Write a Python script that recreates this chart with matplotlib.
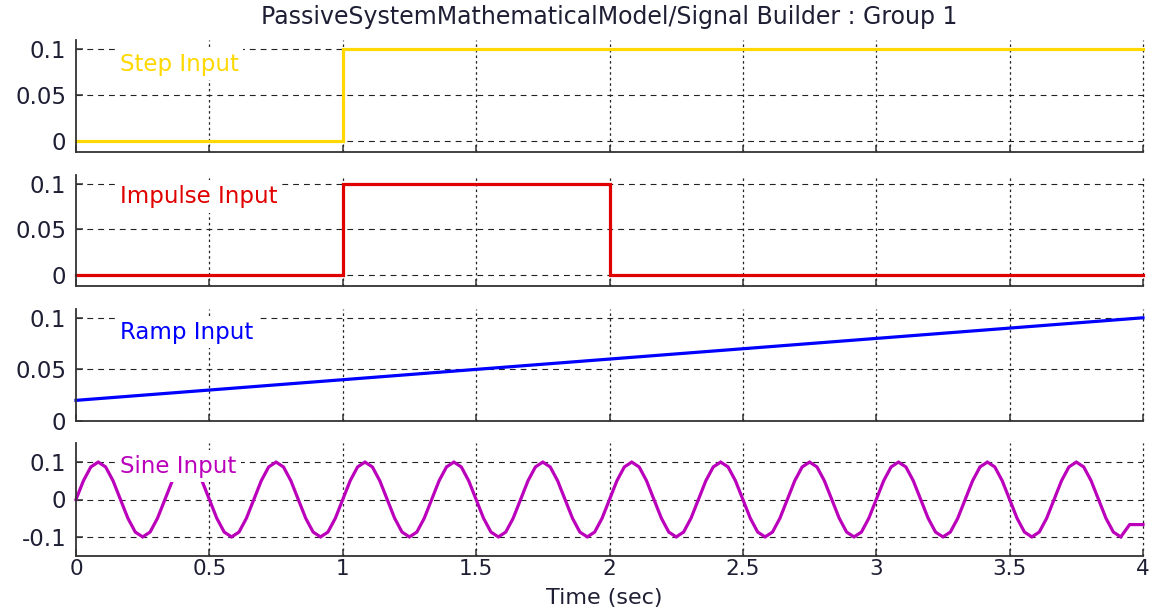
import numpy as np
import matplotlib
matplotlib.use("Agg")
import matplotlib.pyplot as plt

plt.rcParams["font.family"] = ["DejaVu Sans"]
plt.rcParams["lines.scale_dashes"] = False

# ---- signal data ----
x_ticks = [0, 0.5, 1, 1.5, 2, 2.5, 3, 3.5, 4]
x_tick_labels = ["0", "0.5", "1", "1.5", "2", "2.5", "3", "3.5", "4"]

step_t = [0, 1, 1, 4]
step_v = [0, 0, 0.1, 0.1]

impulse_t = [0, 1, 1, 2, 2, 4]
impulse_v = [0, 0, 0.1, 0.1, 0, 0]

ramp_t = [0, 4]
ramp_v = [0.02, 0.1]

# one period of the sine input, sampled every 1/36 s (3 Hz, amplitude 0.1)
sine_cycle = [0, 0.05, 0.087, 0.1, 0.087, 0.05, 0, -0.05, -0.087, -0.1, -0.087, -0.05]
sine_dt = 1 / 36
sine_n = 142            # samples up to the last trough at t = 3.917 s
sine_tail_t = [3.95, 4.0]
sine_tail_v = [-0.067, -0.067]

sine_v = list(np.tile(sine_cycle, 12)[:sine_n]) + sine_tail_v
sine_t = list(np.arange(sine_n) * sine_dt) + sine_tail_t

panels = [
    dict(t=step_t, v=step_v, color="#FFD800", label="Step Input", label_y=0.0763,
         ylim=(-0.0116, 0.1098), yticks=[0, 0.05, 0.1], yticklabels=["0", "0.05", "0.1"]),
    dict(t=impulse_t, v=impulse_v, color="#E00000", label="Impulse Input", label_y=0.079,
         ylim=(-0.0117, 0.1098), yticks=[0, 0.05, 0.1], yticklabels=["0", "0.05", "0.1"]),
    dict(t=ramp_t, v=ramp_v, color="#0000FF", label="Ramp Input", label_y=0.0798,
         ylim=(0, 0.1085), yticks=[0, 0.05, 0.1], yticklabels=["0", "0.05", "0.1"]),
    dict(t=sine_t, v=sine_v, color="#BB00BB", label="Sine Input", label_y=0.072,
         ylim=(-0.151, 0.151), yticks=[-0.1, 0, 0.1], yticklabels=["-0.1", "0", "0.1"]),
]

# axes boxes in pixels: (top, bottom)
W, H = 1155, 612
x_left, x_right = 76, 1143
boxes = [(40, 151.7), (175, 285.7), (309, 421), (443, 556)]

text_color = "#1e1e34"
grid_color = "#222222"
fs = 16.5

fig = plt.figure(figsize=(W / 100, H / 100), dpi=100)

for i, (p, (top, bot)) in enumerate(zip(panels, boxes)):
    ax = fig.add_axes([x_left / W, 1 - bot / H, (x_right - x_left) / W, (bot - top) / H])
    ax.plot(p["t"], p["v"], color=p["color"], lw=2.3, zorder=2,
            solid_joinstyle="miter", clip_on=False)
    ax.set_xlim(0, 4)
    ax.set_ylim(*p["ylim"])

    # grid: dashed horizontals, dotted verticals
    for yv in p["yticks"]:
        ax.axhline(yv, color=grid_color, lw=0.8, dashes=(4.2, 3.6), zorder=1)
    for xv in x_ticks[1:]:
        ax.axvline(xv, color=grid_color, lw=0.9, dashes=(1.8, 2.2), zorder=1, clip_on=False)

    for s in ("top", "right"):
        ax.spines[s].set_visible(False)
    for s in ("left", "bottom"):
        ax.spines[s].set_color("#333333")
        ax.spines[s].set_linewidth(1.3)

    ax.set_xticks(x_ticks)
    ax.set_yticks(p["yticks"])
    ax.set_yticklabels(p["yticklabels"])
    ax.tick_params(direction="in", length=5, width=1.1, color="#333333",
                   labelsize=fs, labelcolor=text_color)
    ax.tick_params(axis="y", pad=7)
    ax.tick_params(axis="x", pad=2, labelsize=15.5)
    if i == len(panels) - 1:
        ax.set_xticklabels(x_tick_labels)
    else:
        ax.set_xticklabels([])

    ax.text(0.165, p["label_y"], p["label"], color=p["color"], fontsize=fs,
            ha="left", va="baseline", zorder=5,
            bbox=dict(boxstyle="square,pad=0.2", facecolor="white", edgecolor="none"))

fig.text((x_left + x_right) / 2 / W, 1 - 17 / H,
         "PassiveSystemMathematicalModel/Signal Builder : Group 1",
         ha="center", va="center", fontsize=17, color=text_color)
fig.text(604 / W, 1 - 598 / H, "Time (sec)", ha="center", va="center",
         fontsize=16, color=text_color)

fig.savefig("out.png", dpi=100, facecolor="white")
